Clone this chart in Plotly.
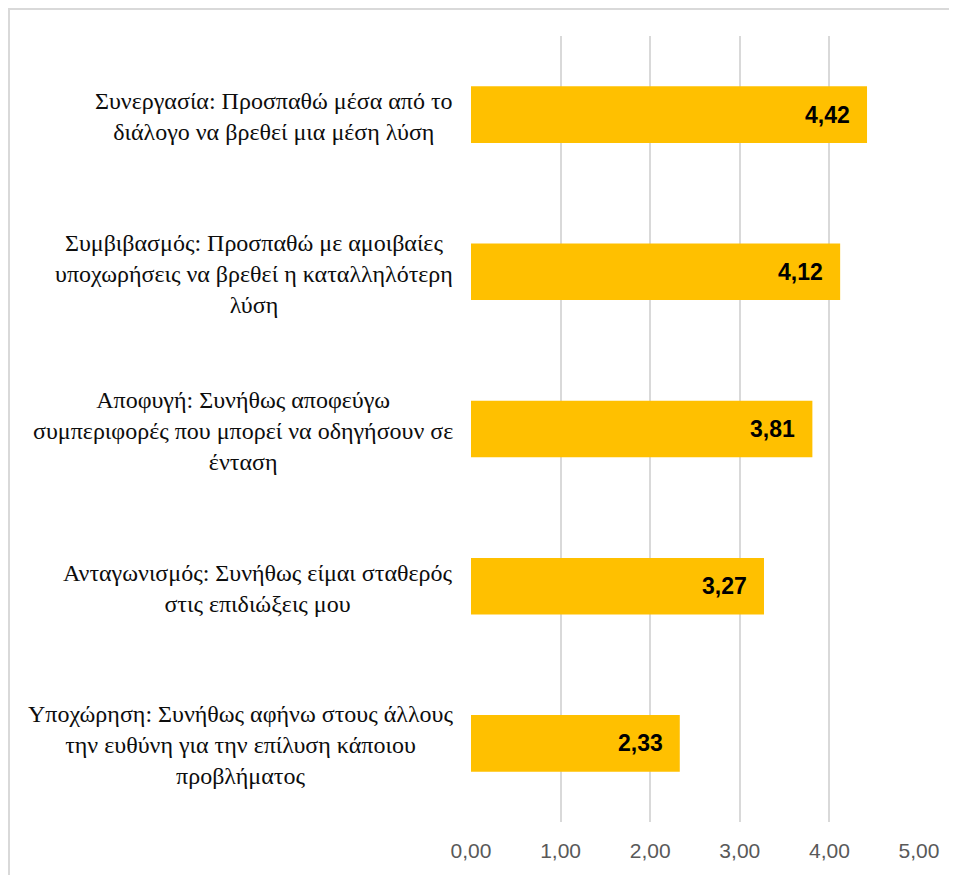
import plotly.graph_objects as go

categories = [
    "Συνεργασία: Προσπαθώ μέσα από το<br>διάλογο να βρεθεί μια μέση λύση",
    "Συμβιβασμός: Προσπαθώ με αμοιβαίες<br>υποχωρήσεις να βρεθεί η καταλληλότερη<br>λύση",
    "Αποφυγή: Συνήθως αποφεύγω<br>συμπεριφορές που μπορεί να οδηγήσουν σε<br>ένταση",
    "Ανταγωνισμός: Συνήθως είμαι σταθερός<br>στις επιδιώξεις μου",
    "Υποχώρηση: Συνήθως αφήνω στους άλλους<br>την ευθύνη για την επίλυση κάποιου<br>προβλήματος",
]
values = [4.42, 4.12, 3.81, 3.27, 2.33]
tick_vals = [0, 1, 2, 3, 4, 5]
tick_text = ["0,00", "1,00", "2,00", "3,00", "4,00", "5,00"]

# page body has an 8px margin, so the figure is drawn from (8, 8)
W, H = 949, 867
ML, MR, MT, MB = 463, 38, 28, 53
pw = W - ML - MR
ph = H - MT - MB

SERIF = "Liberation Serif"

fig = go.Figure()
fig.add_trace(go.Bar(
    x=values, y=categories, orientation="h",
    marker=dict(color="#FFC000", line=dict(width=0)),
    width=0.36, hoverinfo="skip",
))

annotations = []
for c, v in zip(categories, values):
    annotations.append(dict(
        x=v, y=c, xref="x", yref="y", xanchor="right", yanchor="middle",
        xshift=-15, showarrow=False,
        text="<b>" + f"{v:.2f}".replace(".", ",") + "</b>",
        font=dict(family="Liberation Sans", size=23, color="#000000"),
    ))
    annotations.append(dict(
        x=0, y=c, xref="paper", yref="y", xanchor="right", yanchor="middle",
        xshift=-16, yshift=-2, showarrow=False, align="center", text=c,
        font=dict(family=SERIF, size=24, color="#0d0d0d"),
    ))

frame_x0 = (1 - ML) / pw
frame_y1 = (H - MB - 1) / ph
fig.update_layout(
    width=W, height=H,
    margin=dict(l=ML, r=MR, t=MT, b=MB, pad=0),
    paper_bgcolor="white", plot_bgcolor="white",
    showlegend=False,
    xaxis=dict(
        range=[0, 5], tickvals=tick_vals, ticktext=tick_text,
        showgrid=True, gridcolor="#D9D9D9", gridwidth=2,
        zeroline=False, showline=False, ticks="",
        tickfont=dict(family="Liberation Sans", size=21, color="#595959"),
        ticklabelstandoff=14,
    ),
    yaxis=dict(
        autorange="reversed", showticklabels=False, showgrid=False,
        zeroline=False, showline=False, ticks="",
    ),
    annotations=annotations,
    shapes=[dict(
        type="rect", xref="paper", yref="paper",
        x0=frame_x0, x1=1.5, y0=-0.5, y1=frame_y1,
        line=dict(color="#D9D9D9", width=2), fillcolor="rgba(0,0,0,0)", layer="below",
    )],
)
fig.write_html("out.html")
